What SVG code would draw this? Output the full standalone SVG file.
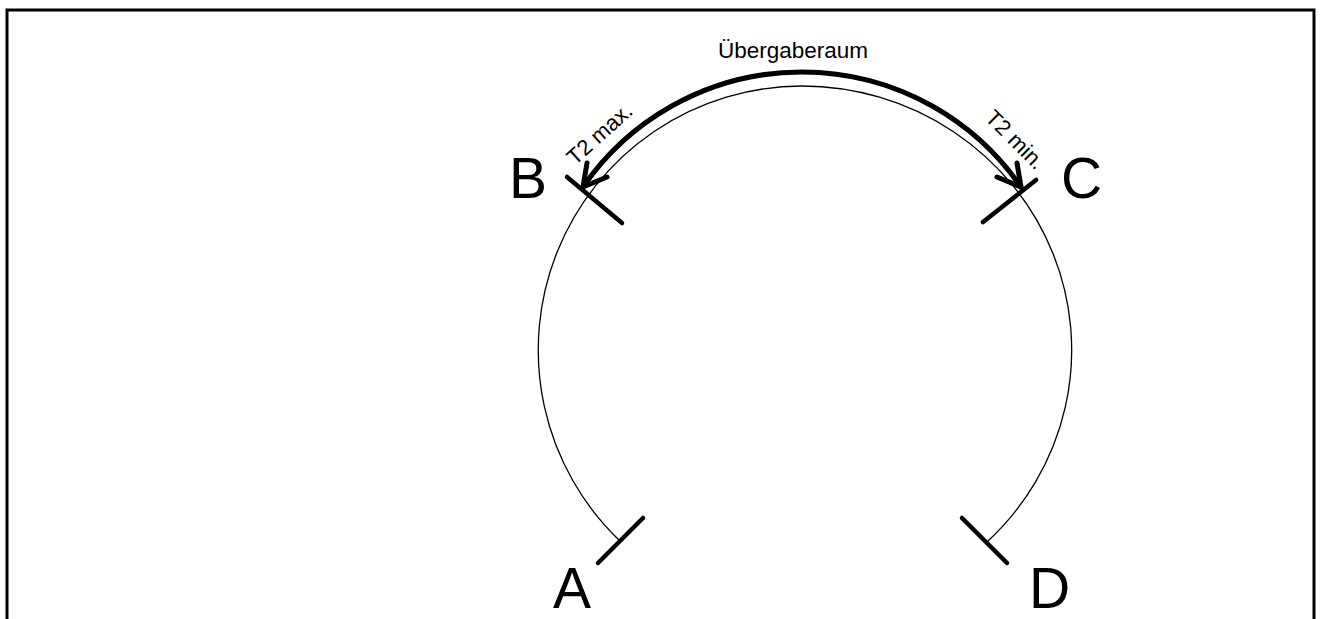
<svg xmlns="http://www.w3.org/2000/svg" width="1322" height="619" viewBox="0 0 1322 619">
<style>
.lbl{font-family:"Liberation Sans",Arial,sans-serif;fill:#000}
.big{font-size:57px}
.sm{font-size:22px}
.tick{stroke:#000;stroke-width:4.5;stroke-linecap:round;fill:none}
.thin{stroke:#000;stroke-width:1.3;fill:none}
.thick{stroke:#000;stroke-width:5;fill:none;stroke-linecap:round;stroke-linejoin:round}
</style>
<rect width="1322" height="619" fill="#fff"/>
<rect x="7" y="10" width="1307" height="700" fill="none" stroke="#000" stroke-width="3"/>
<g id="connectors">
<path class="thin" d="M620,541 A264,264 0 0 1 802,86 A270,264 0 0 1 987,542"/>
<path class="thick" d="M583,187 A266,266 0 0 1 1021,187"/>
<path class="thick" d="M587,163 L583,187 L607,177"/>
<path class="thick" d="M1017,163 L1021,187 L997,177"/>
</g>
<g id="label-top"><text class="lbl" x="718" y="58" style="font-size:22.5px">Übergaberaum</text></g>
<g id="node-A"><line class="tick" x1="598" y1="563" x2="643" y2="518"/><text class="lbl big" x="553" y="608">A</text></g>
<g id="node-B"><line class="tick" x1="567" y1="177" x2="622" y2="223"/><text class="lbl big" x="509" y="198">B</text><text class="lbl sm" transform="translate(575,166) rotate(-42)">T2 max.</text></g>
<g id="node-C"><line class="tick" x1="1036" y1="180" x2="983" y2="222"/><text class="lbl big" x="1061" y="198">C</text><text class="lbl sm" transform="translate(984,119) rotate(45)">T2 min.</text></g>
<g id="node-D"><line class="tick" x1="962" y1="518" x2="1007" y2="563"/><text class="lbl big" x="1029" y="608">D</text></g>
</svg>
